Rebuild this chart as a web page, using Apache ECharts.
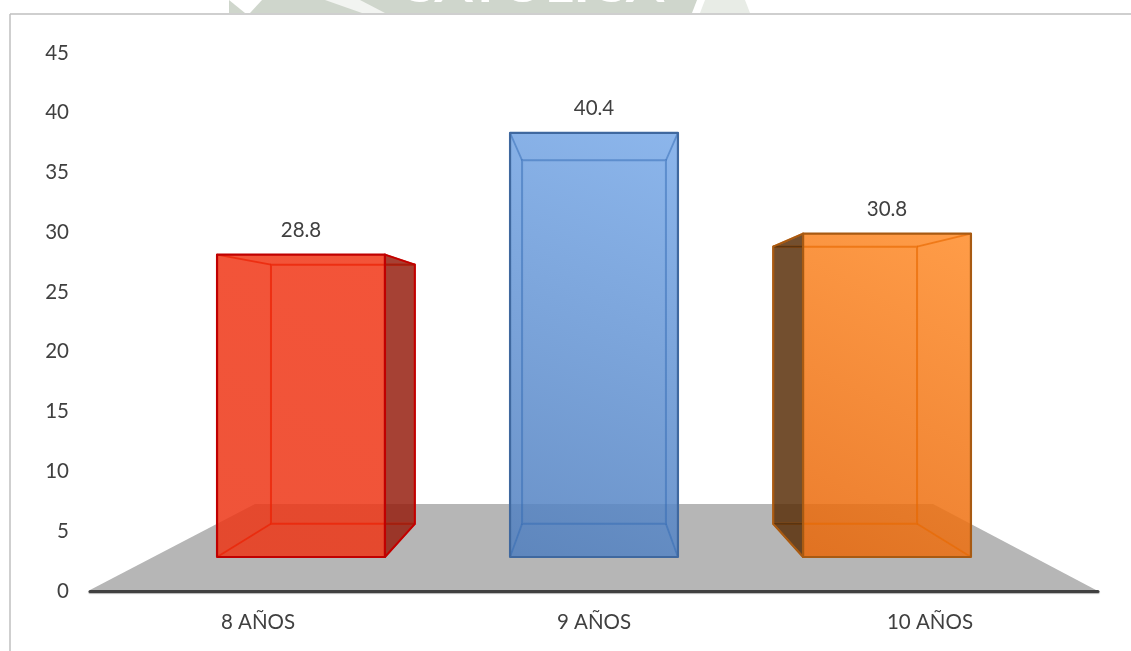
<!DOCTYPE html>
<html>
<head>
<meta charset="utf-8">
<style>html,body{margin:0;padding:0;background:#fff}#chart{width:1131px;height:651px}</style>
<script src="https://cdn.jsdelivr.net/npm/echarts@6/dist/echarts.min.js"></script>
</head>
<body>
<div id="chart"></div>
<script>
// Edades de los estudiantes: porcentaje por grupo
const categories = ['8 AÑOS', '9 AÑOS', '10 AÑOS'];
const percentages = [28.8, 40.4, 30.8];
const yTicks = [0, 5, 10, 15, 20, 25, 30, 35, 40, 45];

const FONT = 'Lato, "Open Sans", sans-serif';
const TEXT = '#404040';

// Perspective of the box: back-face points shrink towards a vanishing point
const DEPTH = 0.857;
const VANISH_Y = 325;
const BAR_SHARE = 0.573;

const boxStyles = [
  { fillA: 'rgba(241,54,22,.85)', fillB: 'rgba(236,54,22,.85)', side: 'rgba(150,32,16,.85)', edge: '#C00000', inner: 'rgba(235,35,5,.75)', wallLine: '#A02010' },
  { fillA: 'rgba(120,169,232,.85)', fillB: 'rgba(79,126,190,.85)', side: 'rgba(60,95,150,.85)', edge: '#3F689F', inner: 'rgba(50,105,180,.5)', wallLine: '#3F689F' },
  { fillA: 'rgba(255,139,40,.85)', fillB: 'rgba(232,102,8,.85)', side: 'rgba(90,48,10,.85)', edge: '#A85A12', inner: 'rgba(232,105,0,.65)', wallLine: '#5A3410' }
];

const chart = echarts.init(document.getElementById('chart'), null, { renderer: 'canvas' });

function drawFloor(params) {
  const g = params.coordSys;
  const bottom = g.y + g.height - 1;
  return {
    type: 'polygon',
    shape: { points: [[g.x, bottom], [g.x + 165, 504], [g.x + 843, 504], [g.x + g.width - 2, bottom]] },
    style: { fill: '#B6B6B6' }
  };
}

function drawBox(params, api) {
  const st = boxStyles[params.dataIndex];
  const i = api.value(0), v = api.value(1);
  const [cx, base] = api.coord([i, 0]);
  const top = api.coord([i, v])[1];
  const half = api.size([1, 0])[0] * BAR_SHARE / 2;
  const g = params.coordSys;
  const vx = g.x + g.width / 2;
  const back = (x, y) => [vx + (x - vx) * DEPTH, VANISH_Y + (y - VANISH_Y) * DEPTH];

  const l = cx - half, r = cx + half;
  const fTL = [l, top], fTR = [r, top], fBR = [r, base], fBL = [l, base];
  const bTL = back(l, top), bTR = back(r, top), bBR = back(r, base), bBL = back(l, base);

  // The side wall shows on whichever side lies away from the chart's centre line
  const sideX = cx < vx ? r : l;
  const sidePts = cx < vx ? [fTR, bTR, bBR, fBR] : (cx > vx ? [fTL, bTL, bBL, fBL] : null);
  const line = (p, q, color, w) => ({
    type: 'line',
    shape: { x1: p[0], y1: p[1], x2: q[0], y2: q[1] },
    style: { stroke: color, lineWidth: w }
  });
  const children = [];
  children.push({
    type: 'polygon',
    shape: { points: [fTL, fTR, fBR, fBL] },
    style: {
      fill: new echarts.graphic.LinearGradient(1, 0, 0, 1, [
        { offset: 0, color: st.fillA }, { offset: 1, color: st.fillB }
      ])
    }
  });
  if (sidePts) children.push({ type: 'polygon', shape: { points: sidePts }, style: { fill: st.side } });
  children.push({
    type: 'polygon',
    shape: { points: [bTL, bTR, bBR, bBL] },
    style: { fill: 'none', stroke: st.inner, lineWidth: 2 }
  });
  children.push(line(fTL, bTL, st.inner, 1.8), line(fTR, bTR, st.inner, 1.8));
  children.push(line(fBL, bBL, st.inner, 1.8), line(fBR, bBR, st.inner, 1.8));
  if (sidePts) {
    // Back-face edges seen through the side wall take the wall's darker tone
    const outerTop = cx < vx ? bTR : bTL;
    const outerBottom = cx < vx ? bBR : bBL;
    children.push(line([sideX, outerTop[1]], outerTop, st.wallLine, 2));
    children.push(line([sideX, outerBottom[1]], outerBottom, st.wallLine, 2));
    children.push({
      type: 'polygon',
      shape: { points: sidePts },
      style: { fill: 'none', stroke: st.edge, lineWidth: 2, lineJoin: 'round' }
    });
  }
  children.push({
    type: 'polygon',
    shape: { points: [fTL, fTR, fBR, fBL] },
    style: { fill: 'none', stroke: st.edge, lineWidth: 2.2, lineJoin: 'round' }
  });
  children.push({
    type: 'text',
    style: {
      text: v.toFixed(1), x: cx, y: top - 24,
      align: 'center', verticalAlign: 'middle',
      fill: TEXT, font: '20.5px ' + FONT
    }
  });
  return { type: 'group', children };
}

chart.setOption({
  animation: false,
  backgroundColor: '#ffffff',
  grid: [
    { left: 90, top: 53, width: 1008, height: 538 },
    // Front plane of the boxes: narrower and raised, as seen in perspective
    { left: 154.5, top: 84.5, width: 879, height: 472.5 }
  ],
  xAxis: [
    {
      gridIndex: 0, type: 'category', data: categories, z: 4,
      axisTick: { show: false },
      axisLine: { lineStyle: { color: '#404040', width: 3, cap: 'round',
        shadowColor: 'rgba(0,0,0,.3)', shadowOffsetY: 1, shadowBlur: 1 } },
      axisLabel: { color: TEXT, fontFamily: FONT, fontSize: 20.5, margin: 21 }
    },
    { gridIndex: 1, type: 'category', data: categories, show: false }
  ],
  yAxis: [
    {
      gridIndex: 0, type: 'value', min: yTicks[0], max: yTicks[yTicks.length - 1], interval: yTicks[1] - yTicks[0],
      axisLine: { show: false }, axisTick: { show: false }, splitLine: { show: false },
      axisLabel: { color: TEXT, fontFamily: FONT, fontSize: 20.5, margin: 21, padding: [3, 0, 0, 0] }
    },
    { gridIndex: 1, type: 'value', min: 0, max: 45, show: false, splitLine: { show: false } }
  ],
  series: [
    { type: 'custom', xAxisIndex: 0, yAxisIndex: 0, z: 1, silent: true,
      renderItem: drawFloor, data: [[0, 0]] },
    { type: 'custom', xAxisIndex: 1, yAxisIndex: 1, z: 3, silent: true,
      renderItem: drawBox, data: percentages.map((v, i) => [i, v]) }
  ],
  graphic: [
    // Faint crest left over at the top of the page
    { type: 'polygon', z: 0, shape: { points: [[229, 0], [697, 0], [692, 13], [229, 13]] }, style: { fill: '#CFD6CC' } },
    { type: 'polygon', z: 0, shape: { points: [[705, 0], [745, 0], [750, 13], [700, 13]] }, style: { fill: '#E8ECE6' } },
    { type: 'polygon', z: 0, shape: { points: [[229, 0], [262, 0], [250, 13], [245, 13]] }, style: { fill: '#ffffff' } },
    { type: 'polygon', z: 0, shape: { points: [[325, 0], [360, 0], [385, 13], [362, 13]] }, style: { fill: '#F2F4F1' } },
    { type: 'text', z: 1, style: { text: 'CATOLICA', x: 398, y: 12, align: 'left', verticalAlign: 'bottom',
        fill: '#ffffff', font: 'bold 55px ' + FONT } },
    // Page frame
    { type: 'line', z: 3, shape: { x1: 10, y1: 14, x2: 1131, y2: 14 }, style: { stroke: '#BFBFBF', lineWidth: 1.5 } },
    { type: 'line', z: 3, shape: { x1: 10, y1: 14, x2: 10, y2: 651 }, style: { stroke: '#BFBFBF', lineWidth: 1.5 } }
  ]
});
</script>
</body>
</html>
